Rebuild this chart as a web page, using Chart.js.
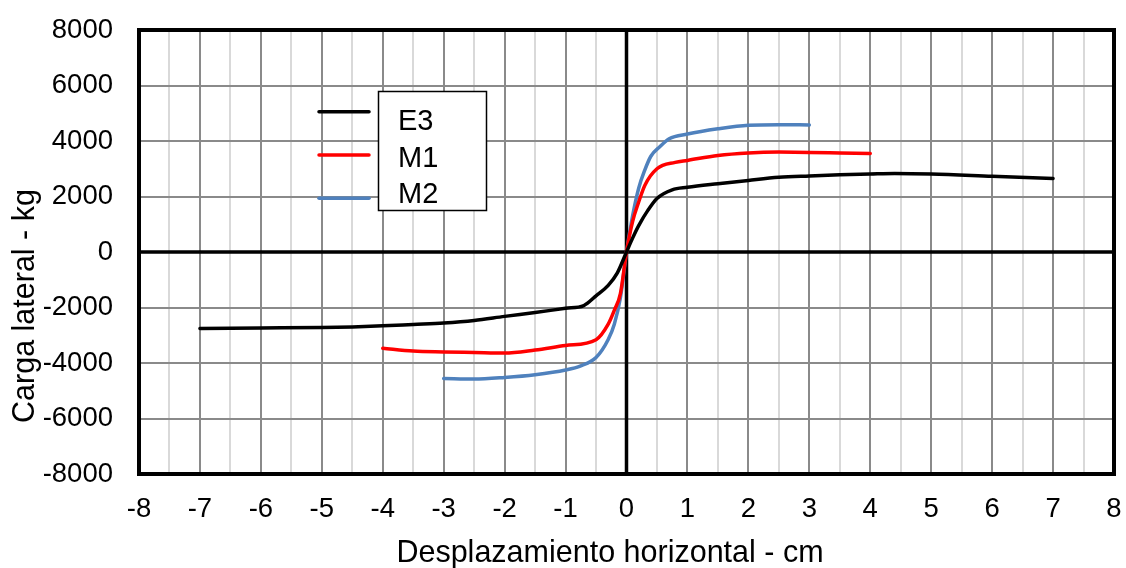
<!DOCTYPE html>
<html>
<head>
<meta charset="utf-8">
<script src="https://cdn.jsdelivr.net/npm/chart.js@4.4.0/dist/chart.umd.min.js"></script>
<style>
  html, body { margin: 0; padding: 0; background: #fff; }
  #wrap { width: 1126px; height: 568px; position: relative; }
</style>
</head>
<body>
<div id="wrap"><canvas id="c" width="1126" height="568"></canvas></div>
<script>
// ---- Data ----
const seriesNames = ["E3", "M1", "M2"];
const xTickLabels = ["-8","-7","-6","-5","-4","-3","-2","-1","0","1","2","3","4","5","6","7","8"];
const yTickLabels = ["-8000","-6000","-4000","-2000","0","2000","4000","6000","8000"];

const e3X = [-7, -6, -5, -4.5, -4, -3.5, -3, -2.5, -2, -1.5, -1, -0.7, -0.5, -0.3, -0.15, 0, 0.1, 0.2, 0.35, 0.5, 0.75, 1, 1.5, 2, 2.5, 3, 3.5, 4, 4.4, 5, 6, 7];
const e3Y = [-2760, -2740, -2720, -2700, -2660, -2610, -2560, -2470, -2320, -2180, -2030, -1930, -1580, -1200, -750, 0, 500, 950, 1500, 1930, 2240, 2330, 2460, 2580, 2690, 2740, 2780, 2810, 2830, 2810, 2730, 2650];

const m1X = [-4, -3.5, -3, -2.5, -2, -1.5, -1, -0.5, -0.3, -0.2, -0.1, 0, 0.1, 0.2, 0.3, 0.5, 0.8, 1, 1.5, 2, 2.5, 3, 3.5, 4];
const m1Y = [-3470, -3570, -3600, -3620, -3640, -3530, -3370, -3160, -2600, -2100, -1500, 0, 1100, 1800, 2400, 3000, 3230, 3300, 3480, 3570, 3600, 3590, 3570, 3550];

const m2X = [-3, -2.5, -2, -1.5, -1, -0.75, -0.5, -0.3, -0.2, -0.1, 0, 0.1, 0.2, 0.3, 0.4, 0.55, 0.7, 1, 1.5, 2, 2.5, 3];
const m2Y = [-4560, -4580, -4520, -4420, -4250, -4100, -3800, -3150, -2600, -1650, 0, 1300, 2300, 2950, 3450, 3800, 4080, 4250, 4440, 4570, 4590, 4580];

const seriesColors = ["#000000", "#ff0000", "#4f81bd"];

function pts(xs, ys) { return xs.map((x, i) => ({ x: x, y: ys[i] })); }

const FONT = "'Liberation Sans', Arial, sans-serif";

const overlay = {
  id: 'overlay',
  beforeDatasetsDraw(chart) {
    const ctx = chart.ctx;
    const xs = chart.scales.x, ys = chart.scales.y;
    const a = chart.chartArea;
    ctx.save();
    ctx.strokeStyle = '#000';
    ctx.lineWidth = 3.5;
    ctx.beginPath();
    const x0 = xs.getPixelForValue(0), y0 = ys.getPixelForValue(0);
    ctx.moveTo(x0, a.top); ctx.lineTo(x0, a.bottom);
    ctx.moveTo(a.left, y0); ctx.lineTo(a.right, y0);
    ctx.stroke();
    ctx.lineWidth = 4;
    ctx.strokeRect(a.left, a.top, a.right - a.left, a.bottom - a.top);
    ctx.restore();
  },
  afterDraw(chart) {
    const ctx = chart.ctx;
    ctx.save();
    // axis titles
    ctx.fillStyle = '#000';
    ctx.font = "30.5px " + FONT;
    ctx.textAlign = 'center';
    ctx.textBaseline = 'alphabetic';
    ctx.fillText("Desplazamiento horizontal - cm", 610, 562);
    ctx.save();
    ctx.translate(34, 306);
    ctx.rotate(-Math.PI / 2);
    ctx.fillText("Carga lateral - kg", 0, 0);
    ctx.restore();
    // legend
    ctx.fillStyle = '#fff';
    ctx.fillRect(378.5, 91.5, 108, 119);
    ctx.strokeStyle = '#000';
    ctx.lineWidth = 1.5;
    ctx.strokeRect(378.5, 91.5, 108, 119);
    const lineYs = [111.7, 155, 198.3];
    const textYs = [130, 166.7, 202.7];
    ctx.lineWidth = 3.5;
    ctx.lineCap = 'round';
    ctx.font = "29px " + FONT;
    ctx.textAlign = 'left';
    ctx.fillStyle = '#000';
    for (let i = 0; i < seriesNames.length; i++) {
      ctx.strokeStyle = seriesColors[i];
      ctx.beginPath();
      ctx.moveTo(319, lineYs[i]);
      ctx.lineTo(369, lineYs[i]);
      ctx.stroke();
      ctx.fillText(seriesNames[i], 398, textYs[i]);
    }
    ctx.restore();
  }
};

const xs = [e3X, m1X, m2X], ysData = [e3Y, m1Y, m2Y];

function noPad(scale) {
  scale.paddingTop = 0; scale.paddingBottom = 0;
  scale.paddingLeft = 0; scale.paddingRight = 0;
}

new Chart(document.getElementById('c'), {
  type: 'line',
  data: {
    datasets: seriesNames.map((n, i) => ({
      label: n,
      data: pts(xs[i], ysData[i]),
      borderColor: seriesColors[i],
      backgroundColor: seriesColors[i],
      borderWidth: 3.5,
      pointRadius: 0,
      fill: false,
      cubicInterpolationMode: 'monotone',
      borderCapStyle: 'round'
    }))
  },
  options: {
    responsive: false,
    animation: false,
    events: [],
    layout: { padding: { top: 30, right: 12, left: 0, bottom: 0 } },
    plugins: { legend: { display: false }, tooltip: { enabled: false }, title: { display: false } },
    scales: {
      x: {
        type: 'linear',
        min: -8, max: 8,
        afterFit(scale) { scale.height = 94; noPad(scale); },
        afterBuildTicks(scale) {
          const t = [];
          for (let v = -8; v <= 8.0001; v += 0.5) t.push({ value: Math.round(v * 2) / 2 });
          scale.ticks = t;
        },
        border: { display: false },
        grid: {
          drawTicks: false,
          color: (c) => Number.isInteger(c.tick.value) ? '#8a8a8a' : '#d9d9d9',
          lineWidth: 2
        },
        ticks: {
          autoSkip: false,
          maxRotation: 0,
          padding: 19,
          color: '#000',
          font: { family: FONT, size: 27.5 },
          callback: (v) => {
            if (!Number.isInteger(v)) return '';
            return xTickLabels[v + 8];
          }
        }
      },
      y: {
        type: 'linear',
        min: -8000, max: 8000,
        afterFit(scale) { scale.width = 139; noPad(scale); },
        border: { display: false },
        grid: { drawTicks: false, color: '#8a8a8a', lineWidth: 2 },
        ticks: {
          stepSize: 2000,
          padding: 26,
          color: '#000',
          font: { family: FONT, size: 27.5 },
          callback: (v) => yTickLabels[Math.round((v + 8000) / 2000)]
        }
      }
    }
  },
  plugins: [overlay]
});
</script>
</body>
</html>
